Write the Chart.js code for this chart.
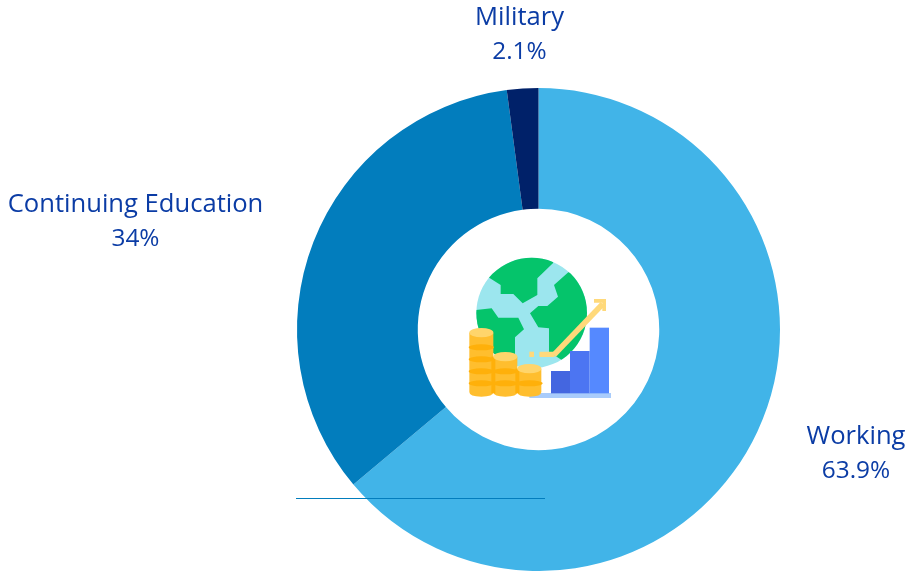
<!DOCTYPE html>
<html><head><meta charset="utf-8">
<script src="https://cdn.jsdelivr.net/npm/chart.js@4"></script>
<style>
html,body{margin:0;padding:0;background:#fff;overflow:hidden}
#wrap{position:relative;width:906px;height:571px}
#icon{position:absolute;left:440px;top:240px;width:190px;height:170px}
</style></head><body>
<div id="wrap">
<canvas id="c" width="906" height="571"></canvas>
<svg id="icon" viewBox="0 0 570 510" xmlns="http://www.w3.org/2000/svg">
<defs><clipPath id="g"><circle cx="275" cy="219" r="166"/></clipPath></defs>
<circle cx="275" cy="219" r="166" fill="#9CE6EE"/>
<g clip-path="url(#g)" fill="#05C46B">
<polygon points="150,115 182,135 182,162 220,162 248,190 292,165 292,115 340,68 320,30 150,30 130,100"/>
<polygon points="385,97 342,135 354,170 322,198 295,198 270,220 295,262 327,265 327,335 365,360 450,320 450,100"/>
<polygon points="105,210 155,205 175,233 235,233 252,268 225,292 225,350 100,350"/>
</g>
<g fill="#FFD97A">
<rect x="268" y="335" width="14" height="16"/>
<rect x="298" y="335" width="46" height="16" rx="3"/>
<polygon points="335,340 482,186 494,198 348,350"/>
<polygon points="462,177 498,177 498,213 487,213 487,188 462,188"/>
</g>
<rect x="268" y="459" width="245" height="15" fill="#A9CCFB"/>
<rect x="333" y="393" width="57" height="67" fill="#4466E0"/>
<rect x="390" y="333" width="59" height="127" fill="#4C75F2"/>
<rect x="449" y="263" width="58" height="197" fill="#5589FF"/>
<g id="coins">
<path d="M88 278V456Q88 470 124 470T160 456V278Z" fill="#FFBE2E"/>
<ellipse cx="124" cy="278" rx="36" ry="14" fill="#FFD56B"/>
<g fill="#FFB00A"><ellipse cx="124" cy="322" rx="38" ry="9"/><ellipse cx="124" cy="358" rx="38" ry="9"/><ellipse cx="124" cy="394" rx="38" ry="9"/><ellipse cx="124" cy="430" rx="38" ry="9"/></g>
<path d="M160 350V456Q160 470 196 470T232 456V350Z" fill="#FFBE2E"/>
<rect x="154" y="350" width="12" height="110" fill="#FFB00A"/>
<ellipse cx="196" cy="350" rx="36" ry="14" fill="#FFD56B"/>
<g fill="#FFB00A"><ellipse cx="196" cy="394" rx="38" ry="9"/><ellipse cx="196" cy="430" rx="38" ry="9"/></g>
<path d="M232 386V456Q232 470 268 470T304 456V386Z" fill="#FFBE2E"/>
<rect x="226" y="386" width="12" height="74" fill="#FFB00A"/>
<ellipse cx="268" cy="386" rx="36" ry="14" fill="#FFD56B"/>
<ellipse cx="268" cy="430" rx="40" ry="9" fill="#FFB00A"/>
</g>
</svg>
</div>
<script>
const categories = ["Working", "Continuing Education", "Military"];
const shares = [63.9, 34, 2.1];
const shareLabels = ["63.9%", "34%", "2.1%"];
const sliceColors = ["#41B4E8", "#027DBD", "#002169"];

const labelAnchors = [[856, 444], [135.5, 212], [519.5, 25]];

const extras = {
  id: "extras",
  afterDraw(chart) {
    const ctx = chart.ctx;
    ctx.save();
    ctx.fillStyle = "#0B3CA5";
    ctx.textAlign = "center";
    ctx.textBaseline = "middle";
    categories.forEach((name, i) => {
      const [x, y] = labelAnchors[i];
      ctx.font = '25.6px "Open Sans"';
      ctx.fillText(name, x, y - 7);
      ctx.font = '24.4px "Open Sans"';
      ctx.fillText(shareLabels[i], x, y + 27.5);
    });
    ctx.fillStyle = "#027DBD";
    ctx.fillRect(296, 498, 249, 1);
    ctx.restore();
  }
};

new Chart(document.getElementById("c"), {
  type: "doughnut",
  data: { labels: categories, datasets: [{ data: shares, backgroundColor: sliceColors, borderWidth: 0 }] },
  options: {
    responsive: false,
    animation: false,
    cutout: "50%",
    layout: { padding: { left: 297, right: 126, top: 88, bottom: 0 } },
    plugins: { legend: { display: false }, tooltip: { enabled: false } }
  },
  plugins: [extras]
});
</script>
</body></html>
